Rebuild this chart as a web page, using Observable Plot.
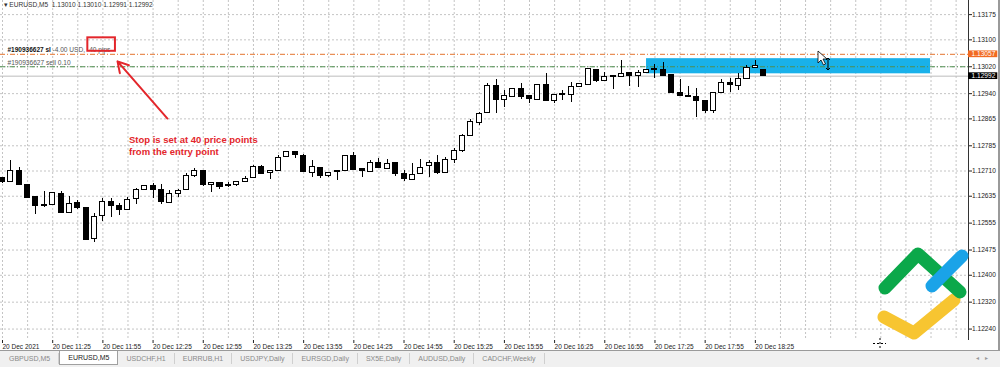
<!DOCTYPE html>
<html><head><meta charset="utf-8">
<script src="https://cdn.jsdelivr.net/npm/d3@7"></script>
<script src="https://cdn.jsdelivr.net/npm/@observablehq/plot@0.6"></script>
<style>
html,body{margin:0;padding:0;background:#fff;}
#wrap{position:relative;width:1000px;height:367px;overflow:hidden;font-family:"Liberation Sans",Arial,sans-serif;}
#chart svg{display:block;}
#tabs{position:absolute;left:0;top:350px;width:1000px;height:17px;background:#f0f0f0;border-top:1px solid #9a9a9a;box-sizing:border-box;display:flex;font-size:7px;color:#8a8a8a;padding-left:1px;}
#tabs .tab{padding:0 8px;border-right:1px solid #cfcfcf;height:11px;margin-top:2px;line-height:11px;}
#tabs .tab.active{background:#fff;color:#222;border:1px solid #a0a0a0;border-top:none;height:13px;margin-top:0;line-height:13px;}
#tabs .arrows{position:absolute;right:6px;top:3px;color:#999;font-size:6px;letter-spacing:6px;}
#edge{position:absolute;left:998px;top:0;width:2px;height:350px;background:#9a9a9a;}
.ov{position:absolute;}
</style></head>
<body>
<div id="wrap">
  <div id="chart"></div>
  <div id="edge"></div>
  <svg class="ov" style="left:870px;top:240px" width="100" height="100" viewBox="0 0 100 100">
    <g fill="none" stroke-linecap="round" stroke-linejoin="round" stroke-width="13">
      <polyline points="14,77 44,93 84,60" stroke="#f7c531"/>
      <polyline points="15,48 48,14 90,52" stroke="#0ba84a"/>
      <line x1="62" y1="46" x2="92" y2="16" stroke="#1aa3e8"/>
    </g>
  </svg>
  <svg class="ov" style="left:816px;top:50px" width="18" height="22" viewBox="0 0 18 22">
    <path d="M2,1 L2,13 L5,10 L7.5,15 L9.5,14 L7,9 L11,9 Z" fill="#fff" stroke="#000" stroke-width="0.8"/>
    <path d="M12,8 L12,20 M10,10 L12,8 L14,10 M10,18 L12,20 L14,18" fill="none" stroke="#000" stroke-width="1"/>
  </svg>
  <svg class="ov" style="left:872px;top:338px" width="16" height="12" viewBox="0 0 16 12">
    <path d="M1,5.5 H14 M8,0 V12" stroke="#000" stroke-width="1" stroke-dasharray="2,2" fill="none"/>
  </svg>
  <div id="tabs"></div>
</div>
<script>
// ---- data ----
const timeLabels = ["20 Dec 2021","20 Dec 11:25","20 Dec 11:55","20 Dec 12:25","20 Dec 12:55","20 Dec 13:25","20 Dec 13:55","20 Dec 14:25","20 Dec 14:55","20 Dec 15:25","20 Dec 15:55","20 Dec 16:25","20 Dec 16:55","20 Dec 17:25","20 Dec 17:55","20 Dec 18:25"];
const open = [1.12689,1.12677,1.12711,1.12669,1.12632,1.12606,1.12609,1.12642,1.12586,1.12615,1.12599,1.12508,1.12576,1.12619,1.12606,1.12595,1.12627,1.12654,1.12664,1.12655,1.12614,1.12642,1.12654,1.12694,1.12709,1.12668,1.12674,1.12669,1.12667,1.12677,1.12689,1.12723,1.12703,1.12709,1.12751,1.12766,1.12756,1.12705,1.12719,1.12694,1.12706,1.12709,1.12756,1.12716,1.12707,1.12734,1.12716,1.12733,1.12702,1.12684,1.12702,1.12726,1.12733,1.12705,1.12743,1.12768,1.12815,1.12853,1.12882,1.12964,1.12922,1.12931,1.12954,1.12934,1.12922,1.12966,1.12919,1.12937,1.12936,1.12961,1.12966,1.13011,1.12979,1.12989,1.12989,1.13001,1.12993,1.13002,1.13014,1.13010,1.12994,1.12943,1.12934,1.12929,1.12917,1.12888,1.12941,1.12971,1.12964,1.12984,1.13017,1.13010];
const high = [1.12692,1.12741,1.12719,1.12670,1.12634,1.12650,1.12646,1.12649,1.12635,1.12622,1.12600,1.12583,1.12627,1.12629,1.12612,1.12632,1.12659,1.12666,1.12672,1.12669,1.12652,1.12654,1.12702,1.12716,1.12711,1.12676,1.12677,1.12677,1.12679,1.12694,1.12726,1.12726,1.12711,1.12756,1.12767,1.12767,1.12759,1.12741,1.12721,1.12705,1.12710,1.12757,1.12766,1.12717,1.12741,1.12746,1.12743,1.12734,1.12711,1.12732,1.12743,1.12741,1.12756,1.12751,1.12777,1.12820,1.12862,1.12885,1.12969,1.12981,1.12949,1.12955,1.12971,1.12935,1.12967,1.12999,1.12937,1.12949,1.12972,1.12970,1.13015,1.13012,1.13004,1.12992,1.13040,1.13001,1.13009,1.13012,1.13028,1.13033,1.12995,1.12981,1.12961,1.12954,1.12918,1.12942,1.12981,1.12984,1.12999,1.13023,1.13040,1.13010];
const low = [1.12674,1.12675,1.12668,1.12629,1.12581,1.12602,1.12608,1.12585,1.12583,1.12596,1.12503,1.12498,1.12560,1.12571,1.12578,1.12593,1.12610,1.12652,1.12627,1.12609,1.12613,1.12632,1.12652,1.12692,1.12665,1.12647,1.12654,1.12662,1.12665,1.12676,1.12687,1.12701,1.12684,1.12708,1.12750,1.12746,1.12705,1.12692,1.12687,1.12691,1.12682,1.12708,1.12712,1.12690,1.12706,1.12718,1.12715,1.12694,1.12679,1.12683,1.12701,1.12692,1.12701,1.12704,1.12733,1.12765,1.12814,1.12845,1.12881,1.12882,1.12898,1.12930,1.12922,1.12911,1.12921,1.12918,1.12910,1.12919,1.12914,1.12960,1.12965,1.12974,1.12978,1.12951,1.12988,1.12961,1.12957,1.13001,1.12984,1.12992,1.12940,1.12933,1.12930,1.12870,1.12882,1.12882,1.12939,1.12944,1.12949,1.12983,1.13015,1.12991];
const close = [1.12677,1.12711,1.12669,1.12630,1.12607,1.12609,1.12645,1.12586,1.12612,1.12599,1.12506,1.12573,1.12619,1.12605,1.12595,1.12625,1.12654,1.12665,1.12653,1.12617,1.12642,1.12650,1.12694,1.12709,1.12667,1.12674,1.12662,1.12664,1.12677,1.12685,1.12721,1.12702,1.12709,1.12749,1.12766,1.12759,1.12706,1.12721,1.12694,1.12703,1.12709,1.12756,1.12713,1.12709,1.12735,1.12719,1.12731,1.12702,1.12685,1.12699,1.12719,1.12733,1.12703,1.12743,1.12769,1.12815,1.12856,1.12880,1.12964,1.12922,1.12934,1.12954,1.12931,1.12925,1.12966,1.12919,1.12936,1.12939,1.12961,1.12969,1.13014,1.12979,1.12991,1.12992,1.12999,1.12993,1.13001,1.13011,1.13011,1.12993,1.12941,1.12934,1.12931,1.12919,1.12888,1.12941,1.12971,1.12966,1.12984,1.13017,1.13021,1.12992];
const yTicks = [1.13175,1.13100,1.13020,1.12940,1.12865,1.12785,1.12710,1.12635,1.12555,1.12475,1.12400,1.12320,1.12240];
const symbol = "EURUSD,M5";
const stopLoss = 1.13057;
const entry = 1.13020;
const bid = 1.12992;
const orderId = "#190936627";
const slText = "-4.00 USD, -40 pips";
const sellText = "sell 0.10";
const zone = [{i1: 76.99, i2: 110.94, p1: 1.13044, p2: 1.12999}];
const slBox = [{i1: 10.2, i2: 13.5, p1: 1.13106, p2: 1.13066}];
const callout = [{i1: 19.72, p1: 1.12866, i2: 13.75, p2: 1.13036, ti: 15.12, tp: 1.12819,
  text: "Stop is set at 40 price points\nfrom the entry point"}];
const tabNames = ["GBPUSD,M5","EURUSD,M5","USDCHF,H1","EURRUB,H1","USDJPY,Daily","EURSGD,Daily","SX5E,Daily","AUDUSD,Daily","CADCHF,Weekly"];

// ---- chart ----
const bars = open.map((o, i) => ({i, open: o, high: high[i], low: low[i], close: close[i]}));
const last = bars[bars.length - 1];
const f5 = d => d.toFixed(5);
const header = `\u25BE ${symbol}  ${f5(last.open)} ${f5(last.high)} ${f5(last.low)} ${f5(last.close)}`;
const xMin = -0.24, xMax = 115.48, yMin = 1.12206, yMax = 1.13217;
const red = "#e3262b";
const priceTags = [{p: stopLoss, fill: "#f26a21"}, {p: bid, fill: "#000"}];

const chart = Plot.plot({
  width: 1000, height: 350,
  marginLeft: 0, marginRight: 32, marginTop: 0, marginBottom: 10,
  x: {type: "linear", domain: [xMin, xMax]},
  y: {domain: [yMin, yMax]},
  color: {type: "identity"},
  style: {fontFamily: "'Liberation Sans', Arial, sans-serif", fontSize: "7px", background: "#fff", color: "#222", overflow: "visible"},
  marks: [
    Plot.gridY(yTicks, {stroke: "#c4c4c4", strokeOpacity: 1, strokeDasharray: "2,2"}),
    Plot.gridX(d3.range(0, 116, 3), {stroke: "#c4c4c4", strokeOpacity: 1, strokeDasharray: "2,2"}),
    Plot.rect(zone, {x1: "i1", x2: "i2", y1: "p1", y2: "p2", fill: "#19b1ea"}),
    Plot.ruleY([stopLoss], {stroke: "#e4742e", strokeDasharray: "5,2,1,2"}),
    Plot.ruleY([entry], {stroke: "#4f8f4f", strokeDasharray: "5,2,1,2"}),
    Plot.ruleY([bid], {stroke: "#bdbdbd"}),
    Plot.ruleX(bars, {x: "i", y1: "low", y2: "high", stroke: "#000", shapeRendering: "crispEdges"}),
    Plot.rect(bars, {x1: d => d.i - 0.3, x2: d => d.i + 0.3, y1: "open", y2: "close",
      fill: d => d.close >= d.open ? "#fff" : "#000", stroke: "#000", shapeRendering: "crispEdges"}),
    // axes
    Plot.ruleX([xMax], {stroke: "#333"}),
    Plot.axisY({ticks: yTicks, anchor: "right", tickSize: 3, tickPadding: 0.5, tickFormat: f5, fontSize: 6.6, fill: "#222"}),
    Plot.axisX({ticks: d3.range(0, 91, 6), anchor: "bottom", tickSize: 3, tickPadding: 1, textAnchor: "start",
      tickFormat: i => timeLabels[i / 6], fontSize: 6.5, fill: "#222"}),
    // price tags on axis
    Plot.rect(priceTags, {x1: xMax, x2: xMax + 3.5, y1: d => d.p + 0.0001, y2: d => d.p - 0.0001, fill: "fill"}),
    Plot.text(priceTags, {x: xMax, y: "p", text: d => f5(d.p), dx: 3, textAnchor: "start", fill: "#fff", fontSize: 6.6}),
    // header
    Plot.text([header], {frameAnchor: "top-left", dx: 3, dy: 2, text: d => d, textAnchor: "start", lineAnchor: "top", fill: "#333", fontSize: 6.6}),
    // order labels
    Plot.text([stopLoss], {y: d => d, frameAnchor: "left", dx: 7, dy: -4, text: () => orderId + " sl", textAnchor: "start", fontWeight: "bold", fontSize: 6.5, fill: "#111"}),
    Plot.text([stopLoss], {y: d => d, frameAnchor: "left", dx: 52, dy: -4, text: () => slText, textAnchor: "start", fontSize: 6.6, fill: "#555"}),
    Plot.text([entry], {y: d => d, frameAnchor: "left", dx: 7, dy: -3.5, text: () => orderId + " " + sellText, textAnchor: "start", fontSize: 6.6, fill: "#555"}),
    // annotation
    Plot.rect(slBox, {x1: "i1", x2: "i2", y1: "p1", y2: "p2", fill: "none", stroke: red, strokeWidth: 2}),
    Plot.arrow(callout, {x1: "i1", y1: "p1", x2: "i2", y2: "p2", stroke: red, strokeWidth: 2, headLength: 9}),
    Plot.text(callout, {x: "ti", y: "tp", text: "text", textAnchor: "start", lineAnchor: "top", fill: red, fontWeight: "bold", fontSize: 9.5, lineHeight: 1.3})
  ]
});
document.getElementById("chart").appendChild(chart);

const tabs = document.getElementById("tabs");
tabNames.forEach((t, k) => {
  const s = document.createElement("div");
  s.className = "tab" + (k === 1 ? " active" : "");
  s.textContent = t;
  tabs.appendChild(s);
});
const ar = document.createElement("div");
ar.className = "arrows"; ar.textContent = "\u25C2\u25B8";
tabs.appendChild(ar);
</script>
</body></html>
